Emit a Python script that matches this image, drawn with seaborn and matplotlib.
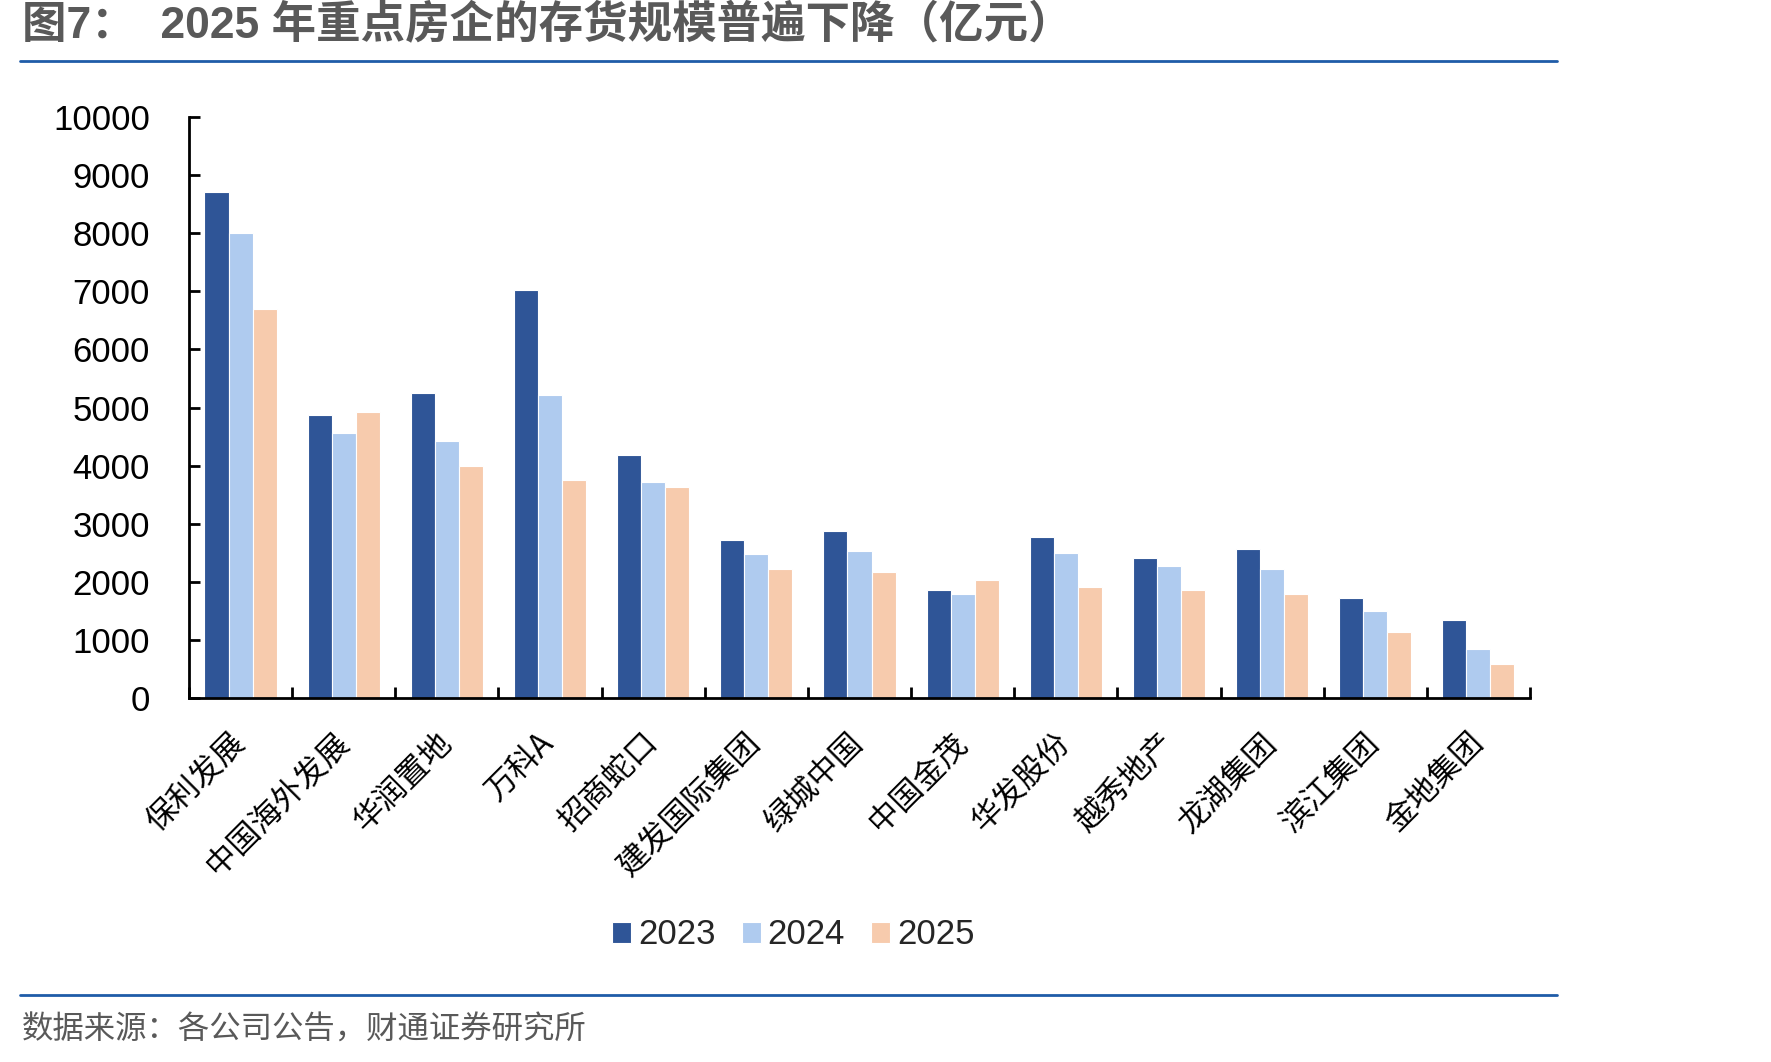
import seaborn as sns
import pandas as pd
import matplotlib.pyplot as plt
import numpy as np
from matplotlib.lines import Line2D


companies = ['保利发展', '中国海外发展', '华润置地', '万科A', '招商蛇口', '建发国际集团',
             '绿城中国', '中国金茂', '华发股份', '越秀地产', '龙湖集团', '滨江集团', '金地集团']
v2023 = [8710, 4880, 5245, 7030, 4180, 2720, 2880, 1860, 2770, 2410, 2560, 1730, 1340]
v2024 = [8000, 4560, 4420, 5210, 3710, 2480, 2530, 1790, 2500, 2270, 2220, 1490, 850]
v2025 = [6690, 4920, 3990, 3750, 3630, 2220, 2170, 2030, 1910, 1860, 1790, 1130, 590]
years = ['2023', '2024', '2025']
colors = ['#2F5597', '#AFCBEF', '#F7CBAD']

raw = pd.DataFrame({'公司': companies, '2023': v2023, '2024': v2024, '2025': v2025})
data = pd.melt(raw, id_vars='公司', var_name='年份', value_name='存货')

sns.set_theme(style='white')
plt.rcParams['font.family'] = ['Liberation Sans', 'Noto Sans CJK SC']

fig = plt.figure(figsize=(17.71, 10.62), dpi=100)
ax = fig.add_axes([0.1067, 0.3427, 0.7572, 0.5471])
sns.barplot(data=data, x='公司', y='存货', hue='年份', hue_order=years, palette=colors,
            saturation=1, width=0.7, edgecolor='white', linewidth=0.8, ax=ax)

ax.set_xlim(-0.5, 12.5)
ax.set_ylim(0, 10000)
ax.set_yticks(range(0, 10001, 1000))
ax.set_xlabel('')
ax.set_ylabel('')
for s in ['top', 'right']:
    ax.spines[s].set_visible(False)
for s in ['left', 'bottom']:
    ax.spines[s].set_color('black')
    ax.spines[s].set_linewidth(2)

ax.tick_params(axis='y', left=True, direction='in', length=8, width=2, color='black',
               pad=28, labelsize=25, labelcolor='black')
ax.tick_params(axis='x', which='major', bottom=False, length=0, pad=29)
ax.set_xticks(np.arange(-0.5, 13, 1), minor=True)
ax.tick_params(axis='x', which='minor', bottom=True, direction='in', length=8, width=2, color='black')
ax.set_xticks(range(len(companies)))
ax.set_xticklabels(companies, rotation=45, ha='right', va='center', rotation_mode='anchor',
                   fontsize=22.5, color='black', family=['Noto Sans CJK SC'])

handles, labels = ax.get_legend_handles_labels()
ax.legend(handles, labels, loc='center', bbox_to_anchor=(0.448, 0.1196), bbox_transform=fig.transFigure,
          ncol=3, frameon=False, fontsize=25, handlelength=0.55, handleheight=0.55,
          handletextpad=0.2, columnspacing=0.75, borderaxespad=0)

fig.text(22 / 1771, 1 - 25 / 1062, '图7：  2025 年重点房企的存货规模普遍下降（亿元）', fontsize=32,
         color='#595959', weight='bold', va='center', ha='left')
fig.add_artist(Line2D([20 / 1771, 1557 / 1771], [1 - 61 / 1062] * 2, color='#1F5CA8', lw=2))
fig.add_artist(Line2D([20 / 1771, 1557 / 1771], [1 - 995 / 1062] * 2, color='#1F5CA8', lw=2))
fig.text(22 / 1771, 1 - 1031 / 1062, '数据来源：各公司公告，财通证券研究所', fontsize=22.6,
         color='#595959', va='center', ha='left')

plt.savefig('out.png', dpi=100)
